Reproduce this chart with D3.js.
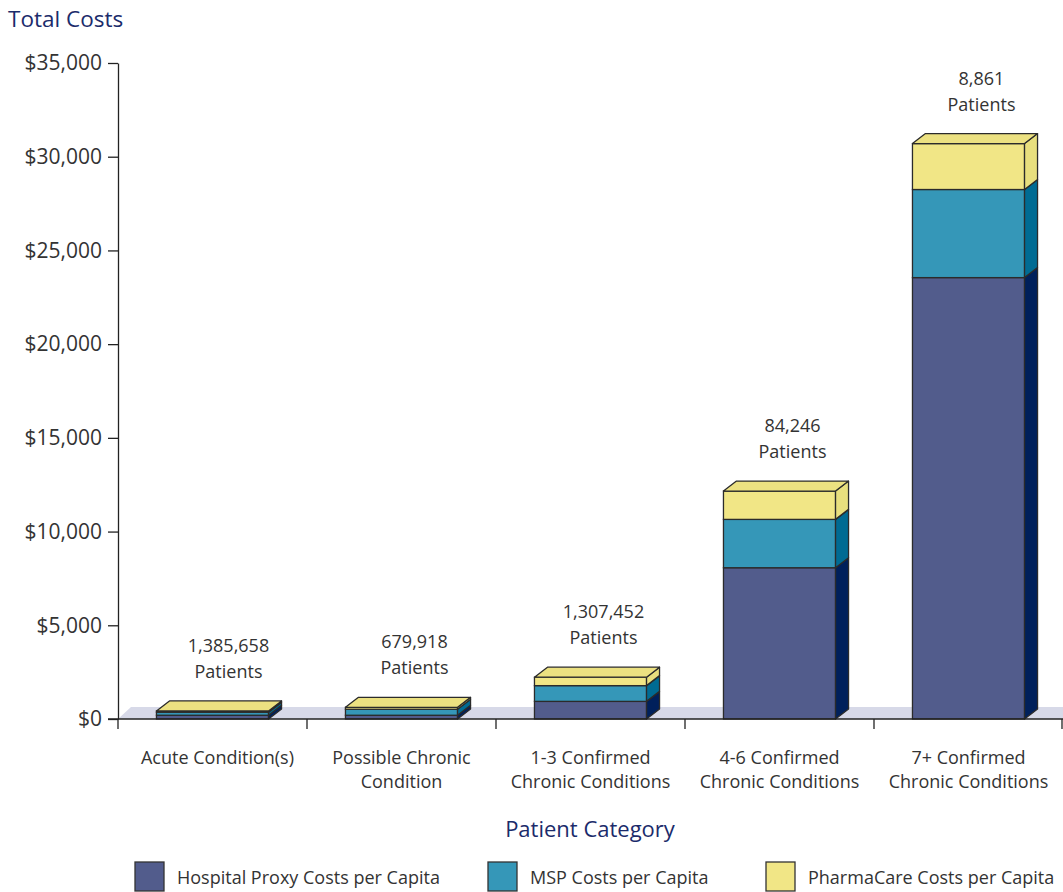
<!DOCTYPE html>
<html>
<head>
<meta charset="utf-8">
<script src="https://cdn.jsdelivr.net/npm/d3@7"></script>
<style>
  html, body { margin: 0; padding: 0; background: #fff; }
  svg { display: block; }
  text { font-family: "Open Sans", "Noto Sans", sans-serif; }
</style>
</head>
<body>
<svg id="chart" width="1063" height="892"></svg>
<script>
// Patient categories (two-line axis labels)
const categories = [
  ["Acute Condition(s)"],
  ["Possible Chronic", "Condition"],
  ["1-3 Confirmed", "Chronic Conditions"],
  ["4-6 Confirmed", "Chronic Conditions"],
  ["7+ Confirmed", "Chronic Conditions"]
];
const patientCounts = ["1,385,658", "679,918", "1,307,452", "84,246", "8,861"];

// Per-capita costs, stacked bottom to top
const hospitalCosts = [200, 200, 940, 8070, 23550];
const mspCosts = [160, 320, 840, 2580, 4700];
const pharmaCosts = [70, 105, 450, 1510, 2450];

const seriesNames = ["Hospital Proxy Costs per Capita", "MSP Costs per Capita", "PharmaCare Costs per Capita"];
const yTicks = [0, 5000, 10000, 15000, 20000, 25000, 30000, 35000];

const frontColors = ["#525c8c", "#3597b8", "#f1e686"];
const sideColors = ["#00205b", "#006b93", "#e8df7e"];
const topColor = "#ece181";
const navy = "#1b2b6b";
const textGray = "#333";

const svg = d3.select("#chart");
const plotLeft = 118, plotRight = 1063, plotTop = 63, plotBottom = 719;
const depthX = 13, depthY = -10;

const y = d3.scaleLinear().domain([0, 35000]).range([plotBottom, plotTop]);
const x = d3.scaleBand().domain(d3.range(categories.length)).range([plotLeft, plotRight]).padding(0);
const barW = x.bandwidth() * 0.593;

// Stack the three series
const rows = categories.map((c, i) => ({ i, s0: hospitalCosts[i], s1: mspCosts[i], s2: pharmaCosts[i] }));
const stacked = d3.stack().keys(["s0", "s1", "s2"])(rows);

// Floor of the 3D plot
svg.append("path")
  .attr("d", `M${plotLeft},${plotBottom} L${plotLeft + depthX},${plotBottom - 12} L${plotRight},${plotBottom - 12} L${plotRight},${plotBottom} Z`)
  .attr("fill", "#d7d9e8");

// Y axis
const yAxis = d3.axisLeft(y).tickValues(yTicks).tickSize(10).tickSizeOuter(0)
  .tickFormat(d => "$" + d3.format(",")(d));
const gy = svg.append("g").attr("transform", `translate(${plotLeft},0)`).call(yAxis);
gy.select(".domain").attr("stroke", "#222").attr("stroke-width", 1.3);
gy.selectAll(".tick line").attr("stroke", "#222").attr("stroke-width", 1.3);
gy.selectAll(".tick text").attr("x", -16).attr("fill", textGray)
  .style("font-size", "21px").style("font-family", "'Open Sans', sans-serif");

// Bars
const bars = svg.append("g");
rows.forEach((r, i) => {
  const x0 = x(i) + (x.bandwidth() - barW) / 2;
  const x1 = x0 + barW;
  stacked.forEach((layer, k) => {
    const d = layer[i];
    const yb = y(d[0]), yt = y(d[1]);
    // front face
    bars.append("rect")
      .attr("x", x0).attr("y", yt).attr("width", barW).attr("height", yb - yt)
      .attr("fill", frontColors[k]).attr("stroke", "#2b2b2b").attr("stroke-width", 1.3);
    // right side
    bars.append("path")
      .attr("d", `M${x1},${yb} L${x1 + depthX},${yb + depthY} L${x1 + depthX},${yt + depthY} L${x1},${yt} Z`)
      .attr("fill", sideColors[k]).attr("stroke", "#2b2b2b").attr("stroke-width", 1.3)
      .attr("stroke-linejoin", "round");
    // top face on the highest segment
    if (k === stacked.length - 1) {
      bars.append("path")
        .attr("d", `M${x0},${yt} L${x0 + depthX},${yt + depthY} L${x1 + depthX},${yt + depthY} L${x1},${yt} Z`)
        .attr("fill", topColor).attr("stroke", "#2b2b2b").attr("stroke-width", 1.3)
        .attr("stroke-linejoin", "round");
    }
  });
  // patient count label
  const yTop = y(stacked[2][i][1]) + depthY;
  const lx = (x0 + x1) / 2 + depthX + (i === 0 ? 3 : 0);
  const lbl = svg.append("text").attr("text-anchor", "middle").attr("fill", textGray)
    .style("font-size", "18px");
  lbl.append("tspan").attr("x", lx).attr("y", yTop - 49).text(patientCounts[i]);
  lbl.append("tspan").attr("x", lx).attr("y", yTop - 23).text("Patients");
});

// X axis baseline and category separators
svg.append("line").attr("x1", plotLeft - 10).attr("x2", plotRight).attr("y1", plotBottom).attr("y2", plotBottom)
  .attr("stroke", "#222").attr("stroke-width", 1.3);
const bounds = d3.range(categories.length + 1).map(i => i < categories.length ? x(i) : plotRight - 1);
svg.append("g").selectAll("line").data(bounds).join("line")
  .attr("x1", d => d).attr("x2", d => d).attr("y1", plotBottom).attr("y2", plotBottom + 10)
  .attr("stroke", "#222").attr("stroke-width", 1.3);

// Category labels
categories.forEach((lines, i) => {
  const t = svg.append("text").attr("text-anchor", "middle").attr("fill", textGray)
    .style("font-size", "18px");
  lines.forEach((ln, j) => {
    t.append("tspan").attr("x", x(i) + x.bandwidth() / 2 + (i === 0 ? 5 : 0))
      .attr("y", 764 + j * 24).text(ln);
  });
});

// Axis titles
svg.append("text").attr("x", 8).attr("y", 27).attr("fill", navy)
  .style("font-size", "22.5px").text("Total Costs");
svg.append("text").attr("x", 590).attr("y", 837).attr("text-anchor", "middle").attr("fill", navy)
  .style("font-size", "22px").text("Patient Category");

// Legend
const legendX = [135, 488, 766];
const legend = svg.append("g");
seriesNames.forEach((name, k) => {
  legend.append("rect").attr("x", legendX[k]).attr("y", 862).attr("width", 29).attr("height", 29)
    .attr("fill", frontColors[k]).attr("stroke", "#333").attr("stroke-width", 1.3);
  legend.append("text").attr("x", legendX[k] + 42).attr("y", 884).attr("fill", textGray)
    .style("font-size", "18px").text(name);
});
</script>
</body>
</html>
